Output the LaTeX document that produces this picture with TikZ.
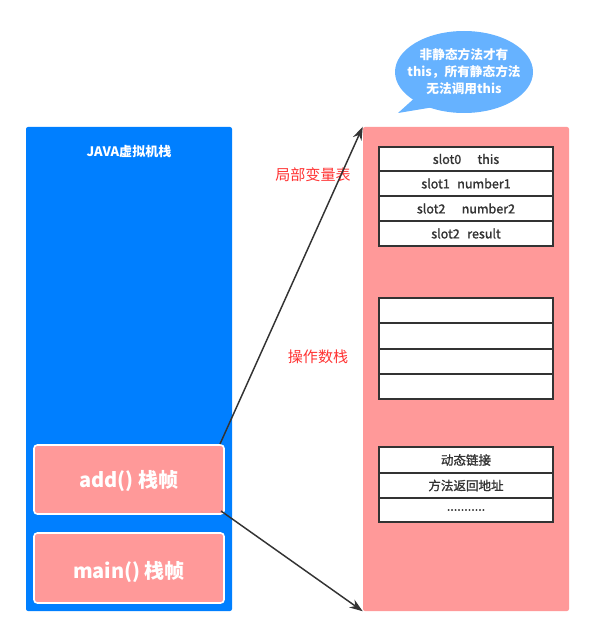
\documentclass[tikz,border=0pt]{standalone}
\usepackage{fontspec}
\setmainfont{Noto Sans CJK SC}
\newfontfamily\semibold{Noto Sans CJK SC}[FakeBold=1.3]
\usetikzlibrary{fit,arrows.meta,shapes.geometric}
\definecolor{jblue}{HTML}{007FFF}
\definecolor{jpink}{HTML}{FF9999}
\definecolor{jbubble}{HTML}{66B2FF}
\definecolor{jred}{HTML}{FF3333}
\definecolor{jdark}{HTML}{333333}
\tikzset{
  panel/.style={inner sep=0pt, rounded corners=1.5pt},
  framebox/.style={inner sep=0pt, fill=jpink, draw=white, line width=1.2pt, rounded corners=2.5pt},
  frametext/.style={text=white, font=\bfseries\fontsize{15}{18}\selectfont},
  cell/.style={inner sep=0pt, fill=white, draw=jdark, line width=1.4pt},
  celltext/.style={text=jdark, font=\semibold\fontsize{9.4}{11}\selectfont},
  redlabel/.style={text=jred, font=\fontsize{11.3}{13}\selectfont},
  conn/.style={draw=jdark, line width=1.1pt, -{Stealth[length=10pt,width=7pt]}},
}
\begin{document}
\begin{tikzpicture}[x=0.75pt,y=-0.75pt]
\useasboundingbox (0,0) rectangle (595,638);
% left stack
\node[panel, fill=jblue, fit={(26,127) (232,611)}] (jvm) {};
\node[text=white, font=\bfseries\fontsize{9.8}{11}\selectfont] (jvmtitle) at (129,152) {JAVA虚拟机栈};
\node[framebox, fit={(34,445) (224,514)}] (add) {};
\node[frametext] (addtext) at (129,481) {add() 栈帧};
\node[framebox, fit={(34,533) (224,603)}] (main) {};
\node[frametext] (maintext) at (129,572) {main() 栈帧};
% right frame
\node[panel, fill=jpink, fit={(363,127) (569,611)}] (frame) {};
% local variable table
\node[cell, fit={(379,147) (553,171)}] (l0) {};
\node[cell, fit={(379,171) (553,196)}] (l1) {};
\node[cell, fit={(379,196) (553,221)}] (l2) {};
\node[cell, fit={(379,221) (553,246)}] (l3) {};
\node[celltext] (t0) at (l0.center) {slot0\hspace{1.3em}this};
\node[celltext] (t1) at (l1.center) {slot1\hspace{0.6em}number1};
\node[celltext] (t2) at (l2.center) {slot2\hspace{1.3em}number2};
\node[celltext] (t3) at (l3.center) {slot2\hspace{0.6em}result};
% operand stack
\node[cell, fit={(379,298) (553,323)}] (o0) {};
\node[cell, fit={(379,323) (553,349)}] (o1) {};
\node[cell, fit={(379,349) (553,374)}] (o2) {};
\node[cell, fit={(379,374) (553,399)}] (o3) {};
% other
\node[cell, fit={(379,447) (553,473)}] (d0) {};
\node[cell, fit={(379,473) (553,498)}] (d1) {};
\node[cell, fit={(379,498) (553,522)}] (d2) {};
\node[celltext] (u0) at (d0.center) {动态链接};
\node[celltext] (u1) at (d1.center) {方法返回地址};
\node[celltext] (u2) at (d2.center) {...........};
% labels
\node[redlabel] (lvt) at (313,175) {局部变量表};
\node[redlabel] (ops) at (318,357) {操作数栈};
% connectors
\coordinate (a1) at (220,444);
\coordinate (a2) at (221,511);
\draw[conn] (a1) -- (frame.north west);
\draw[conn] (a2) -- (frame.south west);
% speech bubble
\fill[jbubble] (464,72) ellipse [x radius=69, y radius=41];
\fill[jbubble] (418,95) -- (398,113) -- (440,106) -- cycle;
\node[text=white, align=center, font=\bfseries\fontsize{9.5}{12.8}\selectfont] (bubble) at (464,72)
  {非静态方法才有\\this，所有静态方法\\无法调用this};
\end{tikzpicture}
\end{document}
